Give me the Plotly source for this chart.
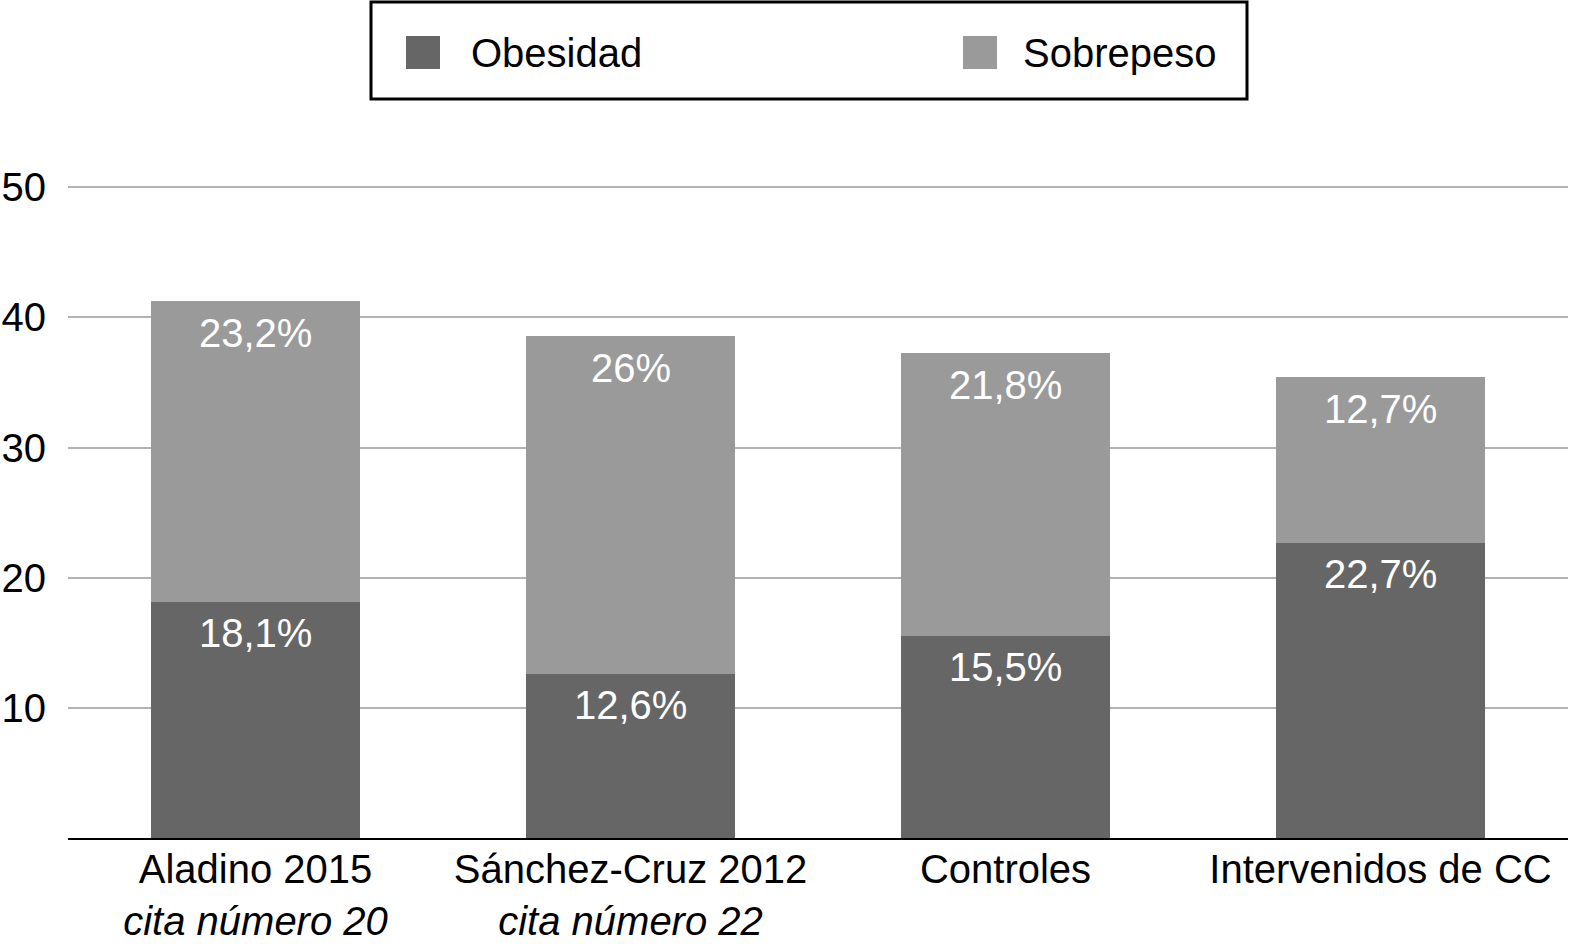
import plotly.graph_objects as go

categories = ["Aladino 2015", "Sánchez-Cruz 2012", "Controles", "Intervenidos de CC"]
subtitles = ["cita número 20", "cita número 22", "", ""]
obesidad = [18.1, 12.6, 15.5, 22.7]
sobrepeso = [23.2, 26.0, 21.8, 12.7]
series_names = ["Obesidad", "Sobrepeso"]
colors = ["#666666", "#9a9a9a"]
y_ticks = [10, 20, 30, 40, 50]
y_range = [0, 50.1]

W, H = 1581, 944
# plot area in window pixels: x 68..1568, y(50.1) 186 .. y(0) 838
L, R, T, B = 68, 13, 186, 106
FONT = "Liberation Sans, Arial, Helvetica, sans-serif"


def px_x(px):
    return (px - L) / (W - L - R)


def px_y(py):
    return (H - B - py) / (H - T - B)


def fmt(v):
    return f"{v:g}".replace(".", ",") + "%"


fig = go.Figure()
fig.add_trace(go.Bar(x=categories, y=obesidad, name=series_names[0],
                     marker=dict(color=colors[0], line=dict(width=0)), width=0.555))
fig.add_trace(go.Bar(x=categories, y=sobrepeso, name=series_names[1],
                     marker=dict(color=colors[1], line=dict(width=0)), width=0.555))

annotations = []
for c, o, s in zip(categories, obesidad, sobrepeso):
    annotations.append(dict(x=c, y=o, text=fmt(o), showarrow=False, yanchor="middle",
                            yshift=-31, font=dict(color="white", size=40, family=FONT)))
    annotations.append(dict(x=c, y=o + s, text=fmt(s), showarrow=False, yanchor="middle",
                            yshift=-32, font=dict(color="white", size=40, family=FONT)))

# Custom legend
shapes = [dict(type="rect", xref="paper", yref="paper",
               x0=px_x(371), x1=px_x(1247), y0=px_y(99), y1=px_y(2),
               line=dict(color="black", width=3), fillcolor="white", layer="above")]
legend_items = [(406, 472), (963, 1024)]
for (sx, tx), name, col in zip(legend_items, series_names, colors):
    shapes.append(dict(type="rect", xref="paper", yref="paper",
                       x0=px_x(sx), x1=px_x(sx + 34), y0=px_y(69), y1=px_y(36),
                       line=dict(width=0), fillcolor=col, layer="above"))
    annotations.append(dict(xref="paper", yref="paper", x=px_x(tx - 3), y=px_y(53),
                            xanchor="left", yanchor="middle", text=name, showarrow=False,
                            font=dict(color="black", size=40, family=FONT)))

ticktext = [c + ("<br><i>" + s + "</i>" if s else "") for c, s in zip(categories, subtitles)]

fig.update_layout(
    width=W, height=H,
    margin=dict(l=L, r=R, t=T, b=B, pad=0),
    barmode="stack",
    showlegend=False,
    plot_bgcolor="white", paper_bgcolor="white",
    font=dict(family=FONT, size=40, color="black"),
    shapes=shapes,
    annotations=annotations,
    xaxis=dict(tickvals=categories, ticktext=ticktext, showline=True, linecolor="black",
               linewidth=2, ticks="", showgrid=False, automargin=False,
               ticklabelstandoff=-5, tickfont=dict(size=40, color="black")),
    yaxis=dict(range=y_range, tickvals=y_ticks, showgrid=True, gridcolor="#b3b3b3",
               gridwidth=2, zeroline=False, showline=False, ticks="", automargin=False,
               ticklabelstandoff=21, tickfont=dict(size=40, color="black")),
)

fig.write_html("out.html", config={"displayModeBar": False},
               post_script="document.body.style.margin='0';document.body.style.overflow='hidden';")
